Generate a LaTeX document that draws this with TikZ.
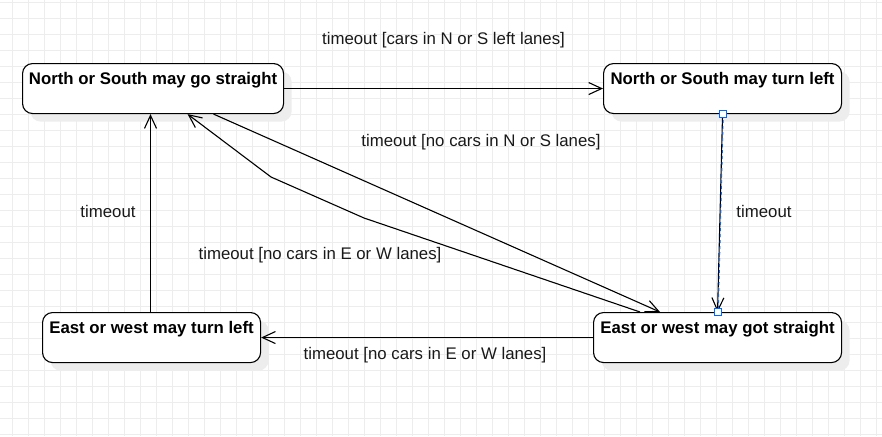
\documentclass[tikz,border=0pt]{standalone}
\usepackage{fontspec}
\setmainfont{Liberation Sans}
\usetikzlibrary{arrows.meta, shadows}

\begin{document}
\begin{tikzpicture}[x=1pt, y=-1pt, font=\fontsize{16.8}{20}\selectfont]
	\tikzstyle{state} = [draw, line width=1.1pt, rounded corners=10pt, anchor=north west, align=center, inner sep=0pt, text height=21pt, text depth=29pt, font=\fontsize{16.8}{20}\selectfont\bfseries, fill=white, drop shadow={shadow xshift=8pt, shadow yshift=-8pt, fill=black!7, opacity=1}]
	\tikzstyle{trans} = [draw, line width=1.1pt, -{Straight Barb[length=13pt, width=12pt, line width=1.1pt]}]
	\tikzstyle{lbl} = [text=black!90, inner sep=0pt]
	\tikzstyle{handle} = [draw=blue!60!cyan, fill=white, line width=0.8pt, minimum size=7pt, inner sep=0pt]

	\useasboundingbox (0,0) rectangle (882,436);
	\fill[white] (0,0) rectangle (882,436);
	\foreach \i in {0,...,54} \draw[black!7, line width=1pt] (12.5+16*\i,0) -- (12.5+16*\i,436);
	\foreach \j in {0,...,27} \draw[black!7, line width=1pt] (0,2.3+16*\j) -- (882,2.3+16*\j);

	\node[state, minimum width=261pt] at (22,63) (nsgo) {North or South may go straight};
	\node[state, minimum width=238pt] at (603,63) (nsleft) {North or South may turn left};
	\node[state, minimum width=248pt] at (593,312) (ewgo) {East or west may got straight};
	\node[state, minimum width=218pt] at (42,312) (ewleft) {East or west may turn left};

	\coordinate (bendA) at (364,218);
	\coordinate (bendB) at (271,177);

	\draw[trans] (nsgo) -- (nsleft);
	\draw[trans] (nsleft.south) -- (ewgo.north);
	\draw[blue!60!cyan, line width=0.8pt, dashed] ([xshift=0.8pt]nsleft.south) -- ([xshift=0.8pt]ewgo.north);
	\draw[trans] (ewgo) -- (ewleft);
	\draw[trans] (ewleft.north -| 150.5,0) -- (nsgo.south -| 150.5,0);
	\draw[trans] ([xshift=60.5pt]nsgo.south) -- ([xshift=67pt]ewgo.north west);
	\draw[trans] ([xshift=47pt]ewgo.north west) -- (bendA) -- (bendB) -- ([xshift=34.5pt]nsgo.south);

	\node[handle] at (nsleft.south) (hdtop) {};
	\node[handle] at (ewgo.north) (hdbot) {};

	\node[lbl] at (443.5,40) (lblcars) {timeout [cars in N or S left lanes]};
	\node[lbl] at (481,142) (lblnons) {timeout [no cars in N or S lanes]};
	\node[lbl] at (764,211) (lblright) {timeout};
	\node[lbl] at (108,211) (lblleft) {timeout};
	\node[lbl] at (320,255) (lblnoewa) {timeout [no cars in E or W lanes]};
	\node[lbl] at (425,355) (lblnoewb) {timeout [no cars in E or W lanes]};
\end{tikzpicture}
\end{document}
